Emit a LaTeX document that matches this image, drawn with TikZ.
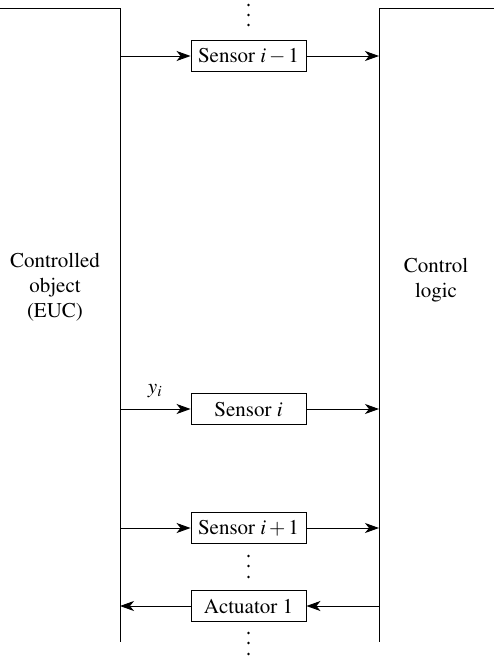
\documentclass[tikz,border=0pt]{standalone}
\usepackage[T1]{fontenc}
\usepackage{mathptmx}
\usetikzlibrary{arrows.meta}
\begin{document}
\begin{tikzpicture}[x=1pt,y=-1pt,
  font=\fontsize{21}{25}\selectfont,
  blk/.style={draw, line width=0.9pt, minimum width=115pt, minimum height=31pt, inner sep=0pt},
  arr/.style={-{Stealth[length=14pt,width=10pt,inset=4pt]}, line width=0.9pt},
  rail/.style={line width=0.9pt},
  lbl/.style={align=center, inner sep=0pt},
  dot/.style={radius=1.3pt}]
\useasboundingbox (0,0) rectangle (494,659);
% rails
\coordinate (lt) at (0,8);
\coordinate (ltc) at (120,8);
\coordinate (lb) at (120,642);
\coordinate (rt) at (494,8);
\coordinate (rtc) at (379,8);
\coordinate (rb) at (379,642);
\draw[rail] (lt) -- (ltc) -- (lb);
\draw[rail] (rt) -- (rtc) -- (rb);
% labels
\node[lbl] (euc) at (55,287) {Controlled\\object\\(EUC)};
\node[lbl] (cl) at (436,280) {Control\\logic};
% boxes
\node[blk] (s1) at (248.5,56) {Sensor $i-1$};
\node[blk] (s2) at (248.5,409) {Sensor $i$};
\node[blk] (s3) at (248.5,528) {Sensor $i+1$};
\node[blk] (a1) at (248.5,606) {Actuator 1};
% arrows
\draw[arr] (s1.west -| ltc) -- (s1.west);
\draw[arr] (s1.east) -- (s1.east -| rtc);
\draw[arr] (s2.west -| ltc) -- (s2.west);
\draw[arr] (s2.east) -- (s2.east -| rtc);
\draw[arr] (s3.west -| ltc) -- (s3.west);
\draw[arr] (s3.east) -- (s3.east -| rtc);
\draw[arr] (a1.east -| rtc) -- (a1.east);
\draw[arr] (a1.west) -- (a1.west -| ltc);
\node[inner sep=0pt] (yi) at (155,391) {$y_i$};
% ellipses
\foreach \yy in {5,15,25,556,566,577,633,643,654}
  \fill (248.5,\yy) circle[dot];
\end{tikzpicture}
\end{document}
